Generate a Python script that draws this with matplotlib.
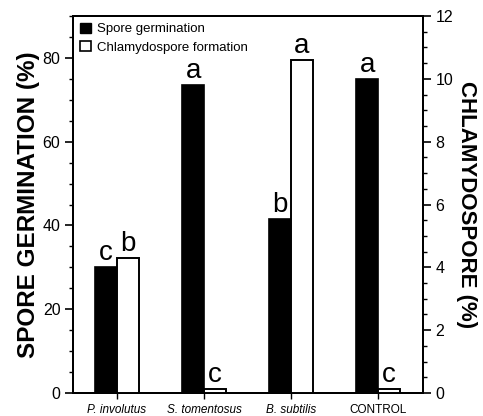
import matplotlib
matplotlib.use("Agg")
import matplotlib.pyplot as plt
from matplotlib.patches import Patch
from matplotlib.ticker import MultipleLocator
import numpy as np

plt.rcParams['font.family'] = ['Liberation Sans', 'DejaVu Sans']

categories = ["P. involutus", "S. tomentosus", "B. subtilis", "CONTROL"]
italic_flags = [True, True, True, False]
germination = [30.0, 73.5, 41.5, 75.0]          # % (left axis)
chlamydospore = [4.3, 0.12, 10.6, 0.12]         # % (right axis)
germ_letters = ["c", "a", "b", "a"]
chlamy_letters = ["b", "c", "a", "c"]

fig = plt.figure(figsize=(4.83, 4.16), dpi=100)
ax = fig.add_axes([0.151, 0.0553, 0.725, 0.9062])
ax2 = ax.twinx()

x = np.arange(len(categories))
w = 0.25
ax.bar(x - w / 2, germination, w, color='black', edgecolor='black', linewidth=1.2, zorder=3)
ax2.bar(x + w / 2, chlamydospore, w, color='white', edgecolor='black', linewidth=1.4, zorder=3)

ax.set_xlim(-0.506, 3.517)
ax.set_ylim(0, 90)
ax2.set_ylim(0, 12)

for xi, v, t in zip(x, germination, germ_letters):
    ax.text(xi - w / 2, v + 0.2, t, ha='center', va='bottom', fontsize=20)
for xi, v, t in zip(x, chlamydospore, chlamy_letters):
    ax2.text(xi + w / 2, v + 0.03, t, ha='center', va='bottom', fontsize=20)

ax.set_xticks(x)
ax.set_xticklabels(categories, fontsize=8.5)
for lbl, it in zip(ax.get_xticklabels(), italic_flags):
    lbl.set_style('italic' if it else 'normal')

ax.yaxis.set_major_locator(MultipleLocator(20))
ax.yaxis.set_minor_locator(MultipleLocator(5))
ax2.yaxis.set_major_locator(MultipleLocator(2))
ax2.yaxis.set_minor_locator(MultipleLocator(0.5))

ax.tick_params(axis='y', which='major', length=6, width=1.2, labelsize=11.5, direction='out', pad=3)
ax.tick_params(axis='y', which='minor', length=3, width=1.0, direction='out')
ax2.tick_params(axis='y', which='major', length=6, width=1.2, labelsize=11.5, direction='out', pad=3)
ax2.tick_params(axis='y', which='minor', length=3, width=1.0, direction='out')
ax.tick_params(axis='x', length=4, width=1.0, direction='out', pad=4)

for a in (ax, ax2):
    for s in a.spines.values():
        s.set_linewidth(1.4)

ax.set_ylabel("SPORE GERMINATION (%)", fontsize=17.5, fontweight='bold', labelpad=2)
ax2.set_ylabel("CHLAMYDOSPORE (%)", fontsize=16, fontweight='bold', rotation=-90, labelpad=17)

handles = [Patch(facecolor='black', edgecolor='black'),
           Patch(facecolor='white', edgecolor='black', linewidth=1.2)]
ax.legend(handles, ["Spore germination", "Chlamydospore formation"], loc='upper left',
          frameon=False, fontsize=9.5, handlelength=0.9, handleheight=0.8,
          handletextpad=0.4, labelspacing=0.45, borderaxespad=0.3, borderpad=0.2)

fig.savefig("out.png", dpi=100)
